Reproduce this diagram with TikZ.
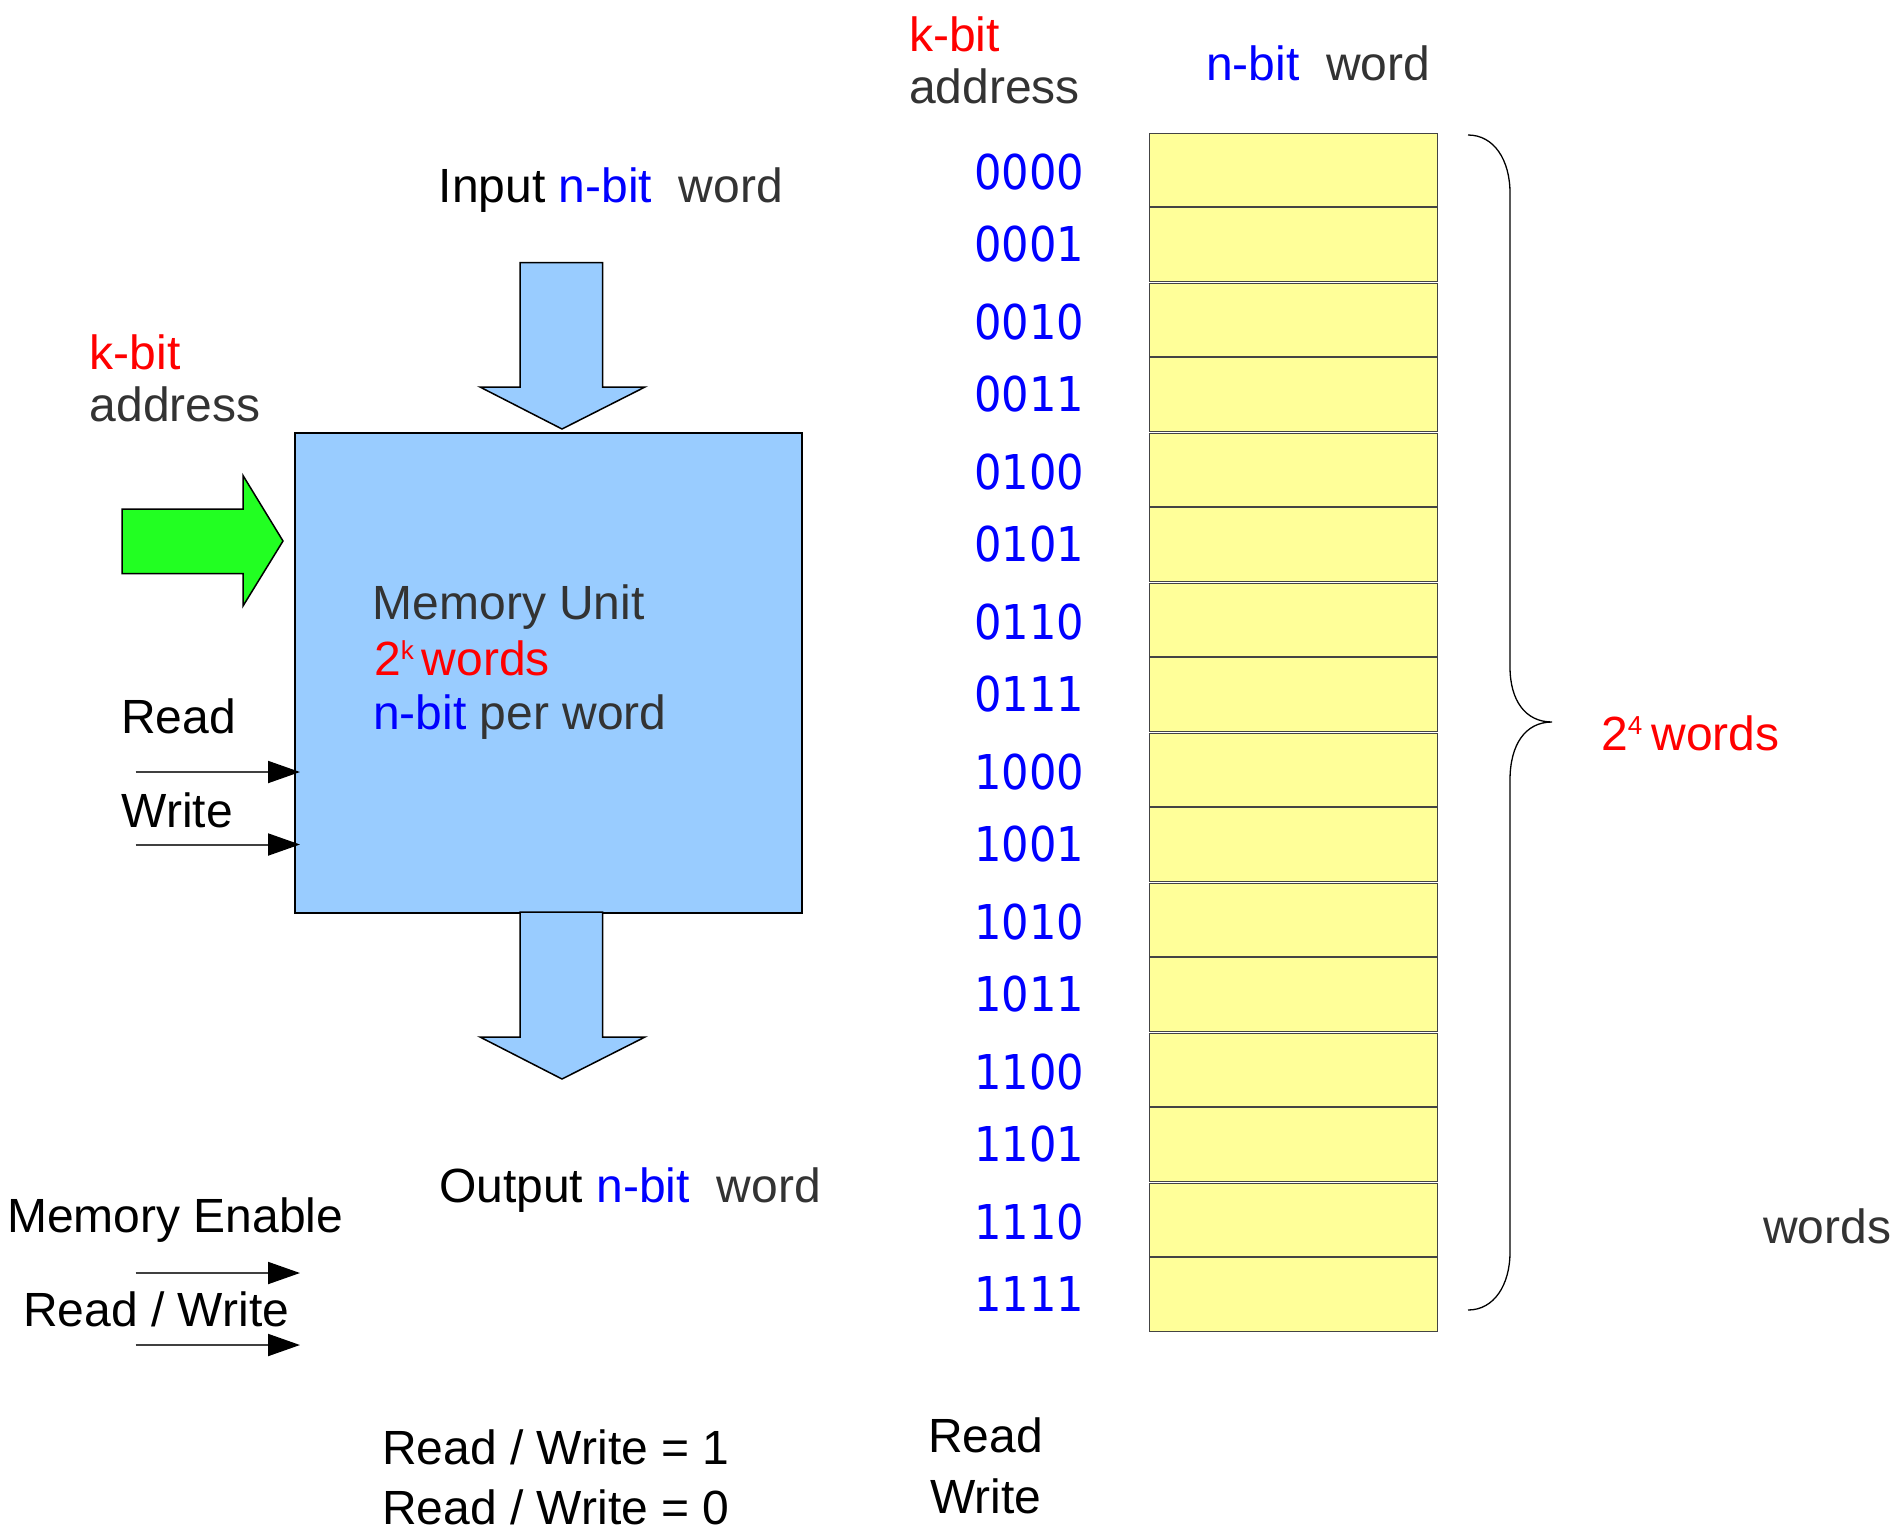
\documentclass[tikz,border=0pt]{standalone}
\usepackage{fontspec}
\setmainfont{Liberation Sans}
\newfontfamily\addrfont[FakeStretch=0.9]{DejaVu Sans}
\usetikzlibrary{arrows.meta}

\definecolor{txtgray}{HTML}{333333}
\definecolor{memblue}{HTML}{99CCFF}
\definecolor{addrgreen}{HTML}{22FF22}
\definecolor{cellyellow}{HTML}{FFFF99}
\definecolor{celledge}{HTML}{444444}

% small raised exponent, top aligned with the cap height
\newcommand\expnum[1]{\raisebox{16pt}{\fontsize{26}{26}\selectfont #1}}

\begin{document}
\begin{tikzpicture}[x=1pt,y=-1pt,
  lbl/.style={anchor=base west, inner sep=0pt, font=\fontsize{48}{55}\selectfont},
  addr/.style={anchor=base west, inner sep=0pt, text=blue, font=\addrfont\fontsize{48}{55}\selectfont},
  bigarrow/.style={draw=black, line width=1.5pt, fill=memblue, line join=miter},
  sig/.style={draw=black!75, line width=2pt, -{Triangle[length=32pt,width=22pt,fill=black,color=black]}},
  cell/.style={draw=celledge, line width=1.3pt, fill=cellyellow, minimum width=288pt, minimum height=148pt, inner sep=0pt, anchor=north west}]

\useasboundingbox (0,0) rectangle (1897,1534);

% ---------------- memory unit ----------------
\node[draw=black, line width=1.5pt, fill=memblue, minimum width=507pt, minimum height=480pt,
      inner sep=0pt, anchor=north west] (mem) at (294,432) {};

% input word arrow
\draw[bigarrow] (520,262.5) -- (602.5,262.5) -- (602.5,387) -- (645,387) -- (562,429)
  -- (480,387) -- (520,387) -- cycle;
% output word arrow
\draw[bigarrow] (520,912) -- (602.5,912) -- (602.5,1037) -- (645,1037) -- (562,1079)
  -- (480,1037) -- (520,1037) -- cycle;
% address arrow
\draw[draw=black, line width=1.5pt, fill=addrgreen, line join=miter]
  (122,509) -- (243,509) -- (243,475.5) -- (283,541) -- (243,606) -- (243,573.5)
  -- (122,573.5) -- cycle;

% read / write control lines
\coordinate (rdin) at (135.5,772);
\coordinate (wrin) at (135.5,844.5);
\draw[sig] (rdin) -- ([xshift=6pt]mem.west |- rdin);
\draw[sig] (wrin) -- ([xshift=6pt]mem.west |- wrin);

% legend lines
\coordinate (mein) at (135.5,1273);
\coordinate (meout) at (300,1273);
\coordinate (rwin) at (135.5,1345);
\coordinate (rwout) at (300,1345);
\draw[sig] (mein) -- (meout);
\draw[sig] (rwin) -- (rwout);

% ---------------- labels, left part ----------------
\node[lbl] (intxt) at (438.5,202.7) {Input \textcolor{blue}{n-bit}\ \ \textcolor{txtgray}{word}};
\node[lbl, text=red] (kbitl) at (89.5,369) {k-bit};
\node[lbl, text=txtgray] (addrl) at (89.5,421) {address};
\node[lbl] (rdl) at (121,733) {Read};
\node[lbl] (wrl) at (121.5,827.5) {Write};
\node[lbl, text=txtgray] (mu1) at (372.5,619) {Memory Unit};
\node[lbl, text=red] (mu2) at (374,675) {2\expnum{k}\hspace{8pt}words};
\node[lbl, text=txtgray] (mu3) at (373,729.5) {\textcolor{blue}{n-bit} per word};
\node[lbl] (outtxt) at (439,1202) {Output \textcolor{blue}{n-bit}\ \ \textcolor{txtgray}{word}};
\node[lbl] (mel) at (7,1232) {Memory Enable};
\node[lbl] (rwl) at (23,1326) {Read / Write};
\node[lbl] (rw1) at (382,1464) {Read / Write = 1};
\node[lbl] (rw0) at (382,1524) {Read / Write = 0};
\node[lbl] (rdr) at (928,1452) {Read};
\node[lbl] (wrr) at (930,1513) {Write};

% ---------------- memory words ----------------
\node[lbl, text=red] (kbitr) at (909,51) {k-bit};
\node[lbl, text=txtgray] (addrr) at (909,103) {address};
\node[lbl] (nbit) at (1206,80) {\textcolor{blue}{n-bit}\ \ \textcolor{txtgray}{word}};

\foreach \p in {0,...,7} {
  \pgfmathsetmacro\ptop{133+150*\p}
  \node[cell] (pair\p) at (1149,\ptop) {};
  \draw[draw=celledge, line width=1.6pt] ([yshift=0.5pt]pair\p.west) -- ([yshift=0.5pt]pair\p.east);
}

\foreach \a/\yb in {0000/189,0001/261,0010/339,0011/411,0100/489,0101/561,0110/639,0111/711,
                    1000/789,1001/861,1010/939,1011/1011,1100/1089,1101/1161,1110/1239,1111/1311} {
  \node[addr] (a\a) at (974,\yb) {\a};
}

% brace over all words
\draw[line width=1.3pt] (1468,135) .. controls (1494,135) and (1510,160) .. (1510,193)
  -- (1510,667) .. controls (1510,700) and (1525,722) .. (1552,722)
  .. controls (1525,722) and (1510,745) .. (1510,780)
  -- (1510,1252) .. controls (1510,1285) and (1494,1310) .. (1468,1310);

\node[lbl, text=red] (count) at (1601,750) {2\expnum{4}\hspace{9pt}words};
\node[lbl, text=txtgray] (wordsr) at (1763,1243) {words};

\end{tikzpicture}
\end{document}
